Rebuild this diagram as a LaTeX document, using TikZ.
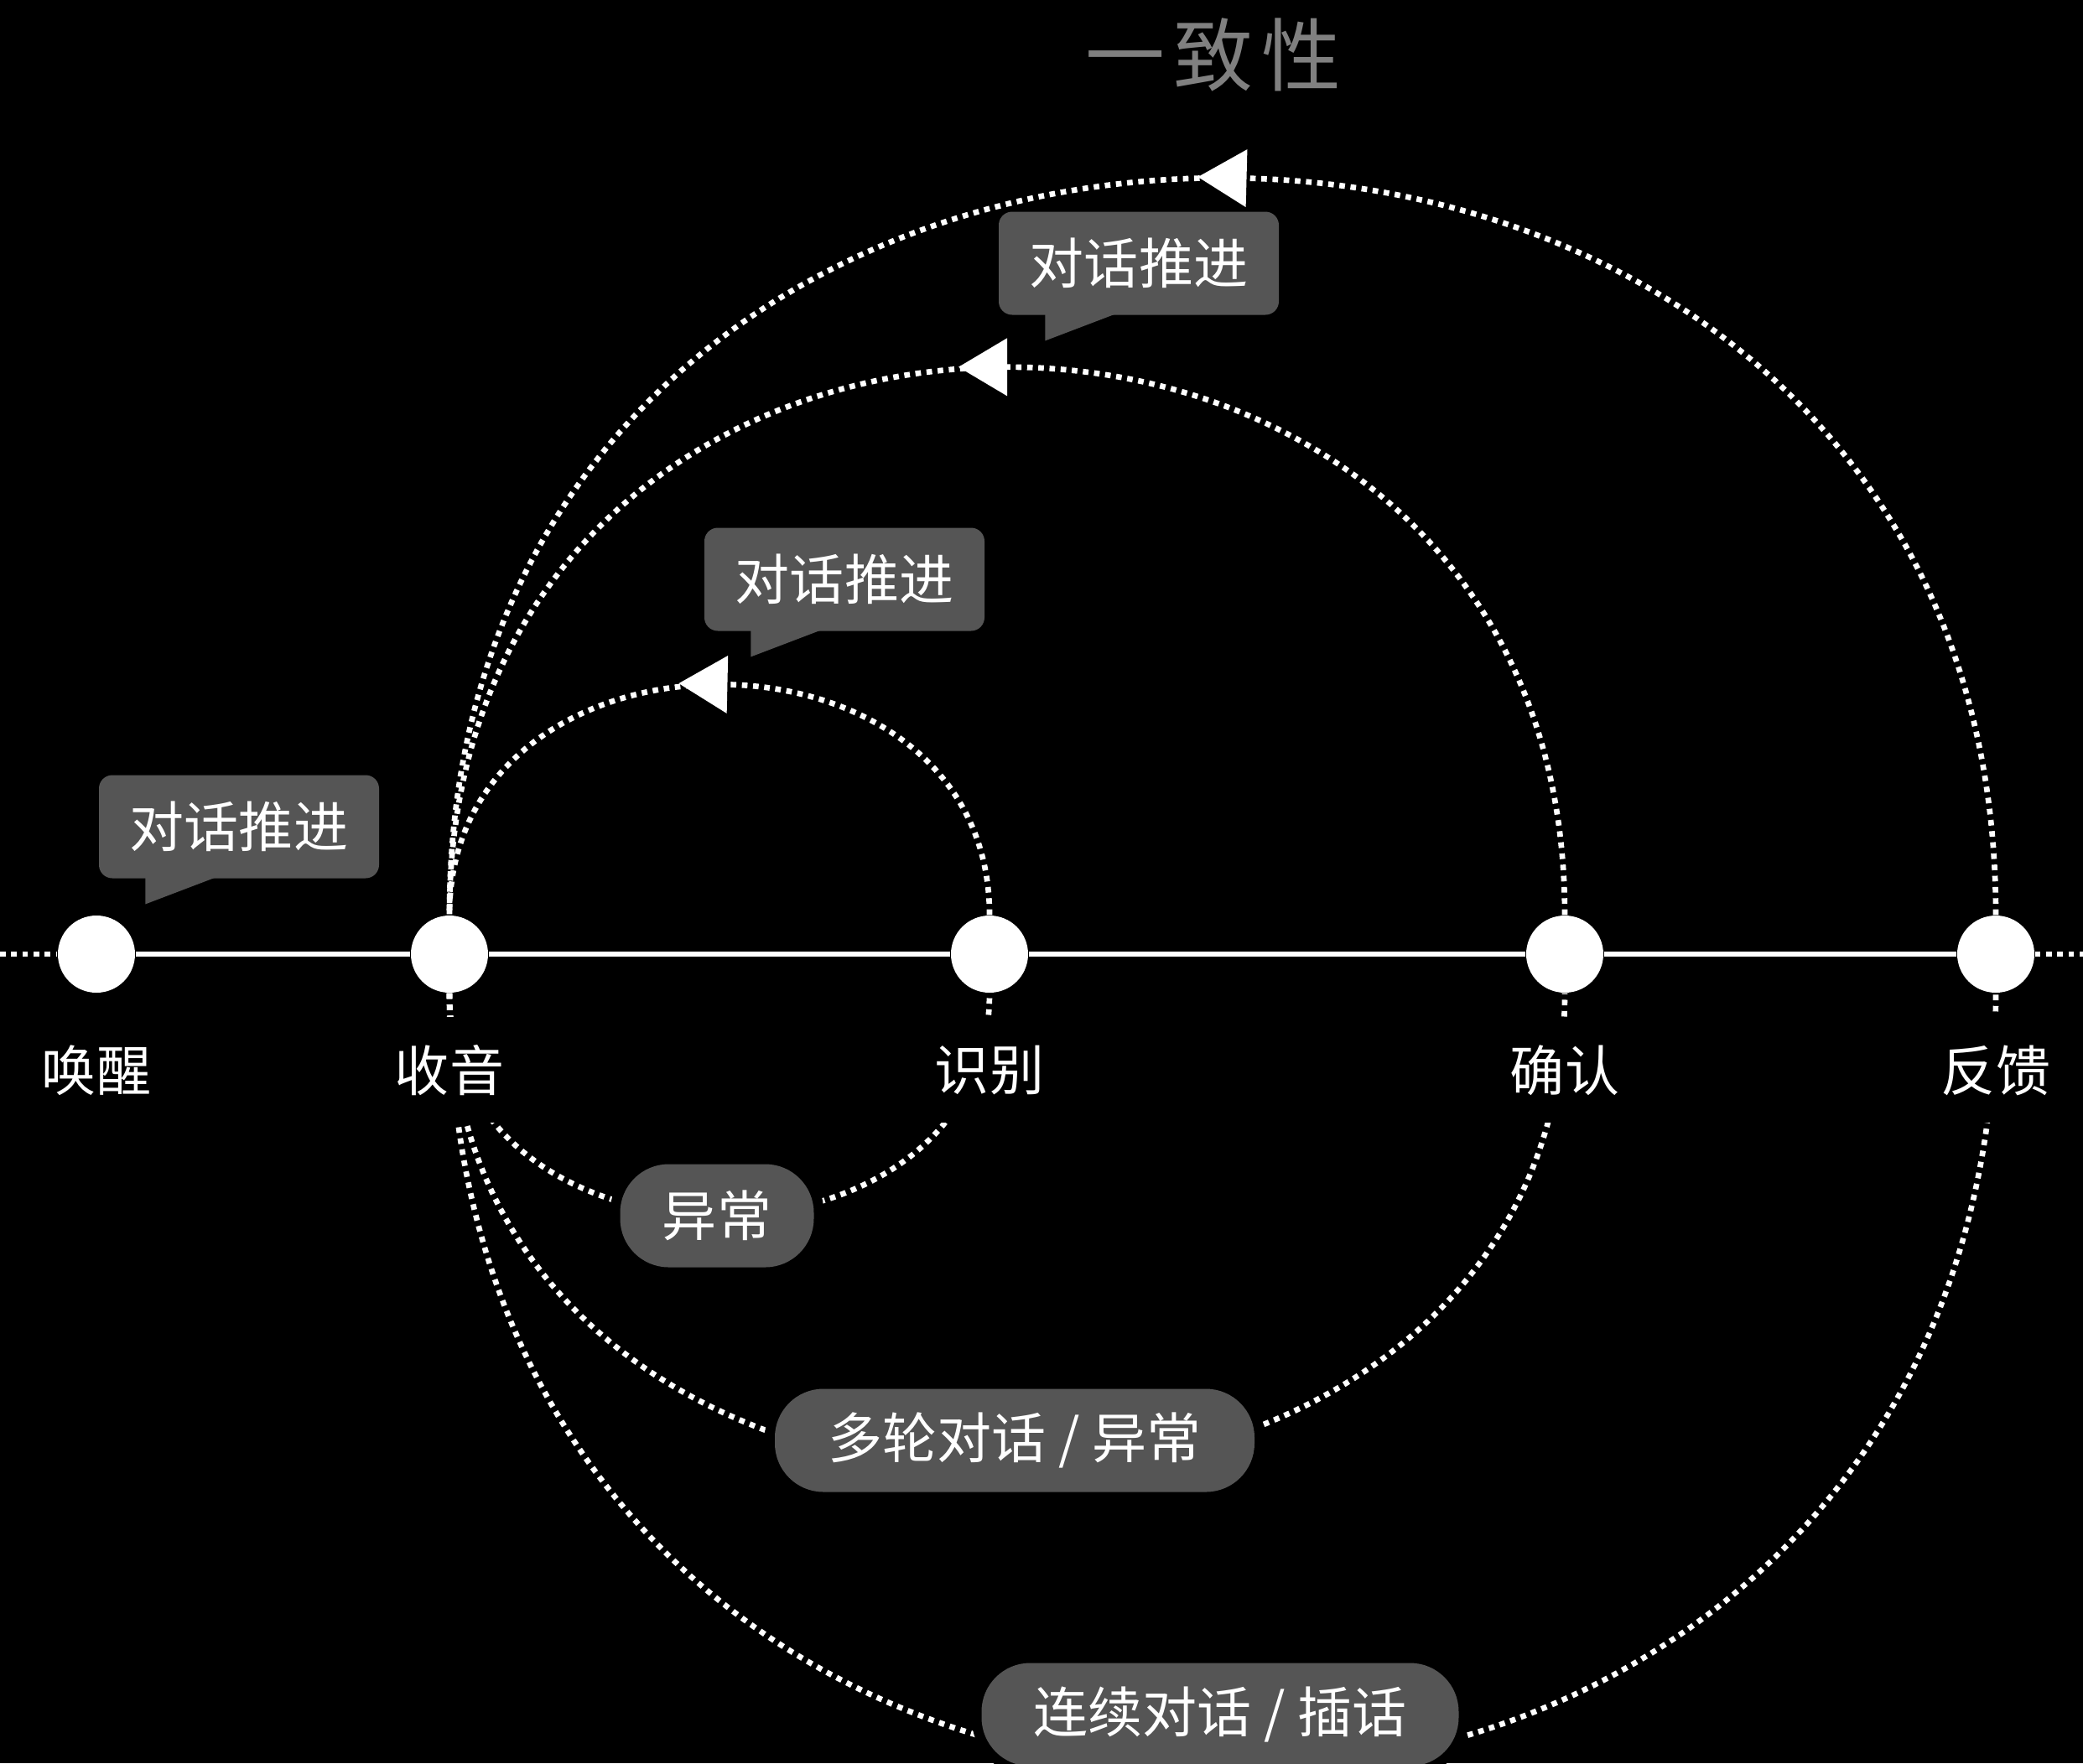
\documentclass[tikz,border=0pt]{standalone}
\usepackage{fontspec}
\usepackage{tikz}
\usetikzlibrary{positioning, calc, decorations.markings}
\newfontfamily\cjk{Noto Sans CJK SC}
\definecolor{bgBlack}{RGB}{0, 0, 0}
\definecolor{boxGray}{RGB}{85, 85, 85}
\definecolor{titleGray}{RGB}{128, 128, 128}

\begin{document}
\begin{tikzpicture}[
    station/.style={
        circle,
        fill=white,
        minimum size=9.2mm,
        inner sep=0pt
    },
    stationlabel/.style={
        rectangle,
        fill=bgBlack,
        text=white,
        minimum width=1.5cm,
        minimum height=1.26cm,
        inner sep=0pt,
        font=\cjk\fontsize{18.5pt}{22pt}\selectfont
    },
    flow/.style={
        white,
        line width=1.9pt,
        dash pattern=on 1.9pt off 1.9pt
    },
    push/.style={
        flow,
        postaction={decorate},
        decoration={markings, mark=at position #1 with {\fill[white] (0,3.45mm) -- (5.8mm,0) -- (0,-3.45mm) -- cycle;}}
    },
    push/.default=0.5,
    bubble/.style={
        rectangle,
        fill=boxGray,
        text=white,
        minimum width=3.34cm,
        minimum height=1.23cm,
        rounded corners=1.6mm,
        font=\cjk\fontsize{18.5pt}{22pt}\selectfont
    },
    pill/.style={
        rectangle,
        fill=boxGray,
        text=white,
        minimum height=1.23cm,
        rounded corners=5.8mm,
        preaction={draw=bgBlack, line width=2.4mm},
        font=\cjk\fontsize{18.5pt}{22pt}\selectfont
    }
]
    \useasboundingbox[fill=bgBlack] (0,0) rectangle (24.84,-21.03);

    % Stations
    \foreach \n/\x in {huanxing/1.15, shouyin/5.36, shibie/11.80, queren/18.66, fankui/23.80} {
        \node[station] (\n) at (\x,-11.38) {};
    }
    \coordinate (westend) at (0,-11.38);
    \coordinate (eastend) at (24.84,-11.38);

    % Timeline
    \draw[white, line width=1.7pt] (huanxing) -- (shouyin) -- (shibie) -- (queren) -- (fankui);
    \draw[flow] (westend) -- (huanxing);
    \draw[flow] (fankui) -- (eastend);

    % Forward loops
    \draw[push=0.49] (shibie) to[out=90, in=90, looseness=1.46] (shouyin);
    \draw[push] (queren) to[out=90, in=90, looseness=1.68] (shouyin);
    \draw[push=0.49] (fankui) to[out=90, in=90, looseness=1.63] (shouyin);

    % Return loops
    \draw[flow] (shouyin) to[out=-90, in=-90, looseness=1.41] (shibie);
    \draw[flow] (shouyin) to[out=-90, in=-90, looseness=1.47] (queren);
    \draw[flow] (shouyin) to[out=-90, in=-90, looseness=1.72] (fankui);

    % Station labels
    \foreach \n/\t in {huanxing/唤醒, shouyin/收音, shibie/识别, queren/确认, fankui/反馈} {
        \node[stationlabel, below=0.28cm of \n] (\n-label) {\t};
    }

    % Loop labels
    \node[pill, minimum width=2.31cm] (error) at (8.55,-14.50) {异常};
    \node[pill, minimum width=5.72cm] (multiturn) at (12.10,-17.18) {多轮对话 / 异常};
    \node[pill, minimum width=5.69cm] (continuous) at (14.55,-20.45) {连续对话 / 插话};

    % Callouts
    \node[bubble] (talk1) at (2.85,-9.86) {对话推进};
    \node[bubble] (talk2) at (10.07,-6.91) {对话推进};
    \node[bubble] (talk3) at (13.58,-3.14) {对话推进};
    \foreach \b in {talk1, talk2, talk3} {
        \fill[boxGray] ([xshift=5.6mm, yshift=0.5pt]\b.south west) -- ++(0,-3.2mm) -- ([xshift=14mm, yshift=0.5pt]\b.south west) -- cycle;
    }

    % Title
    \node[font=\cjk\fontsize{27pt}{32pt}\selectfont, text=titleGray] (title) at (14.47,-0.65) {一\hspace{1mm}致\hspace{1mm}性};

\end{tikzpicture}
\end{document}
